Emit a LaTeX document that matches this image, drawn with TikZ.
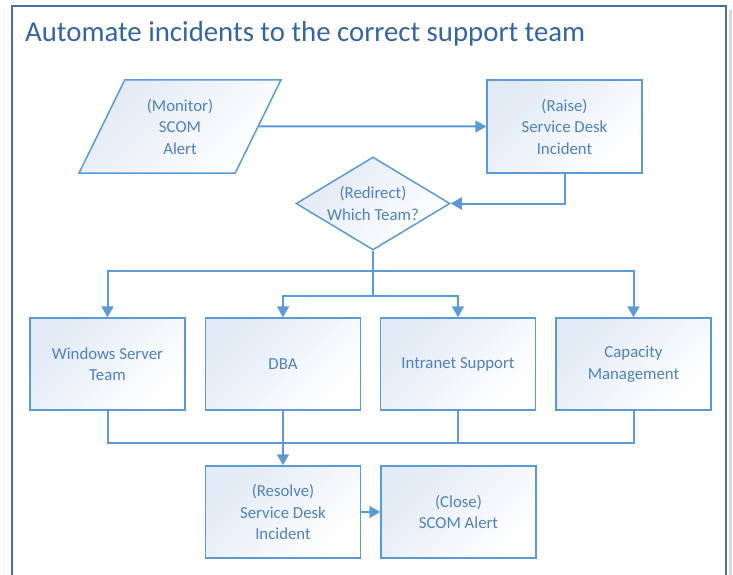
\documentclass[tikz,border=0pt]{standalone}
\usepackage{fontspec}
\setmainfont{Carlito}
\usetikzlibrary{arrows.meta,shapes.geometric}
\definecolor{linec}{RGB}{91,155,213}
\definecolor{textc}{RGB}{79,129,189}
\definecolor{titlec}{RGB}{52,101,160}
\definecolor{framec}{RGB}{68,114,168}
\definecolor{boxtop}{RGB}{226,234,245}
\begin{document}
\begin{tikzpicture}[x=1pt, y=-1pt,
    box/.style = {draw=linec, line width=1.5pt, top color=boxtop, bottom color=white,
      shading angle=45, minimum width=155pt, minimum height=92pt, inner sep=0pt,
      align=center, text=textc, font=\fontsize{16.8}{21.5}\selectfont},
    flow/.style = {draw=linec, line width=2pt, -{Triangle[length=11pt,width=12pt]}},
    feed/.style = {draw=linec, line width=2pt}]
  \useasboundingbox (0,0) rectangle (733,575);
  \draw[line width=3pt, black!15] (730,10) -- (730,575);
  \draw[line width=1.8pt, framec] (12,575) -- (12,6) -- (726,6) -- (726,575);
  \node[anchor=base west, inner sep=0pt, text=titlec, font=\fontsize{28.8}{32}\selectfont] (title)
    at (25,42) {Automate incidents to the correct support team};

  \node[box, shape=trapezium, trapezium left angle=63.7, trapezium right angle=116.3,
    trapezium stretches=true, minimum width=202pt, minimum height=93pt] (alert) at (180,126.5)
    {(Monitor)\\SCOM\\Alert};
  \node[box, minimum height=93pt] (raise) at (564.5,126.5) {(Raise)\\Service Desk\\Incident};
  \node[box, shape=diamond, shape aspect=1.66, minimum width=154pt, minimum height=93pt] (team)
    at (373,203.5) {(Redirect)\\Which Team?};

  \node[box] (wst) at (107.5,364) {Windows Server\\Team};
  \node[box] (dba) at (283,364) {DBA};
  \node[box] (intra) at (458,364) {Intranet Support};
  \node[box] (cap) at (633.5,364) {Capacity\\Management};

  \node[box] (resolve) at (283,512) {(Resolve)\\Service Desk\\Incident};
  \node[box] (close) at (458.5,512) {(Close)\\SCOM Alert};

  \coordinate (fork1) at (373,271);
  \coordinate (fork2) at (373,296);
  \coordinate (merge) at (283,443);

  \draw[flow] (alert.east) -- (raise.west);
  \draw[flow] (raise.south) |- (team.east);
  \draw[feed] (team.south) -- (fork2);
  \draw[flow] (fork1) -| (wst.north);
  \draw[flow] (fork1) -| (cap.north);
  \draw[flow] (fork2) -| (dba.north);
  \draw[flow] (fork2) -| (intra.north);
  \draw[feed] (wst.south) |- (merge);
  \draw[feed] (intra.south) |- (merge);
  \draw[feed] (cap.south) |- (merge);
  \draw[flow] (dba.south) -- (resolve.north);
  \draw[flow] (resolve.east) -- (close.west);
\end{tikzpicture}
\end{document}
